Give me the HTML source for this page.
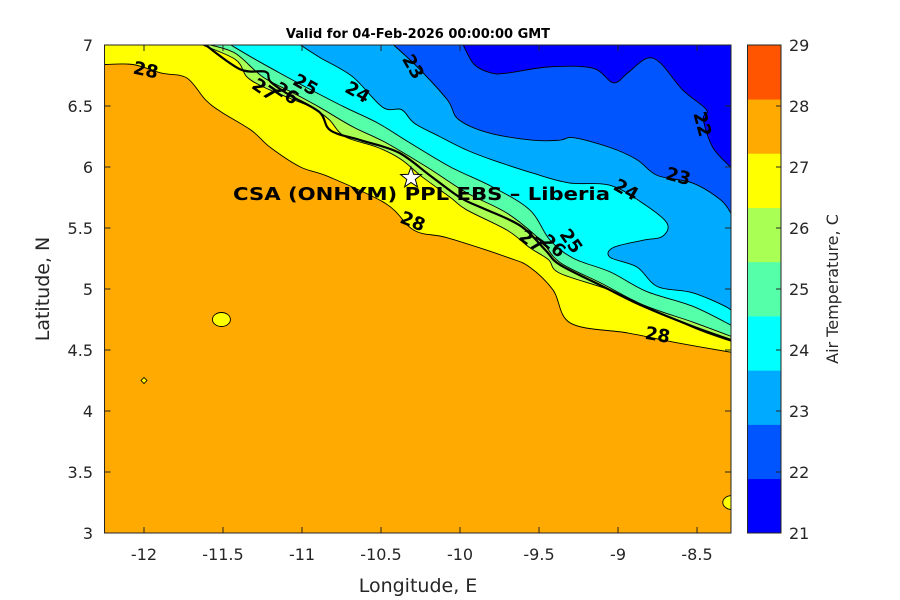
<!DOCTYPE html>
<html><head><meta charset="utf-8"><style>
html,body{margin:0;padding:0;background:#fff;}
svg{display:block;font-family:"DejaVu Sans","Liberation Sans",sans-serif;}
</style></head><body>
<svg id="chart" width="900" height="600" viewBox="0 0 900 600" xmlns="http://www.w3.org/2000/svg">
<defs><clipPath id="plotclip"><rect x="104.5" y="45" width="626.5" height="488"/></clipPath></defs>
<rect x="0" y="0" width="900" height="600" fill="#fff"/>
<text x="418" y="38" text-anchor="middle" font-size="13" font-weight="bold">Valid for 04-Feb-2026 00:00:00 GMT</text>
<g id="plot" clip-path="url(#plotclip)"></g>
<g id="overlay"></g>
<g id="axes"></g>
<g id="cbar"></g>
<text x="418" y="592" text-anchor="middle" font-size="19" fill="#262626">Longitude, E</text>
<text transform="translate(49,289) rotate(-90)" text-anchor="middle" font-size="19" fill="#262626">Latitude, N</text>
<text transform="translate(838,289) rotate(-90)" text-anchor="middle" font-size="16" fill="#262626">Air Temperature, C</text>
</svg>
<script>
const xTicks = [-12, -11.5, -11, -10.5, -10, -9.5, -9, -8.5];
const yTicks = [3, 3.5, 4, 4.5, 5, 5.5, 6, 6.5, 7];
const levels = [21, 22, 23, 24, 25, 26, 27, 28, 29];
const levelColors = ["#0000ff","#0055ff","#00aaff","#00ffff","#55ffaa","#aaff55","#ffff00","#ffaa00"];
const colorbarColors = ["#0000ff","#0055ff","#00aaff","#00ffff","#55ffaa","#aaff55","#ffff00","#ffaa00","#ff5500"];
const contour28 = [[-12.25,6.84],[-12.07,6.84],[-11.89,6.77],[-11.73,6.73],[-11.61,6.55],[-11.51,6.45],[-11.32,6.30],[-11.20,6.16],[-11.01,6.00],[-10.83,5.92],[-10.47,5.70],[-10.29,5.48],[-10.08,5.42],[-9.70,5.26],[-9.56,5.18],[-9.41,4.99],[-9.30,4.72],[-8.94,4.64],[-8.63,4.56],[-8.28,4.48]];
const contour27 = [[-11.63,7.00],[-11.42,6.88],[-11.35,6.74],[-11.25,6.66],[-11.09,6.57],[-10.94,6.49],[-10.83,6.39],[-10.73,6.25],[-10.52,6.16],[-10.37,6.06],[-10.24,5.92],[-10.06,5.75],[-9.96,5.65],[-9.70,5.48],[-9.56,5.34],[-9.44,5.24],[-9.37,5.13],[-9.05,4.99],[-8.78,4.83],[-8.48,4.66],[-8.28,4.57]];
const contour26 = [[-11.58,7.00],[-11.42,6.93],[-11.25,6.74],[-11.06,6.61],[-10.89,6.49],[-10.68,6.33],[-10.47,6.20],[-10.21,6.00],[-9.96,5.79],[-9.70,5.62],[-9.49,5.40],[-9.37,5.22],[-9.11,5.05],[-8.84,4.87],[-8.53,4.73],[-8.28,4.61]];
const contour25 = [[-11.45,7.00],[-11.32,6.90],[-11.14,6.77],[-10.94,6.63],[-10.73,6.49],[-10.52,6.36],[-10.32,6.20],[-10.06,6.00],[-9.80,5.84],[-9.56,5.65],[-9.43,5.40],[-9.28,5.25],[-9.05,5.14],[-8.82,4.98],[-8.53,4.86],[-8.28,4.70]];
const contour24 = [[-11.01,7.00],[-10.89,6.90],[-10.68,6.74],[-10.49,6.49],[-10.37,6.47],[-10.29,6.36],[-10.13,6.25],[-9.96,6.14],[-9.80,6.06],[-9.54,5.95],[-9.31,5.87],[-9.05,5.85],[-8.84,5.70],[-8.69,5.54],[-8.72,5.43],[-8.84,5.40],[-9.03,5.34],[-9.05,5.26],[-8.88,5.18],[-8.75,5.02],[-8.53,4.97],[-8.31,4.85],[-8.28,4.80]];
const contour23 = [[-10.42,7.00],[-10.27,6.82],[-10.08,6.55],[-10.01,6.39],[-9.82,6.28],[-9.54,6.22],[-9.37,6.22],[-9.28,6.24],[-9.05,6.16],[-8.88,6.06],[-8.75,5.93],[-8.53,5.87],[-8.35,5.73],[-8.28,5.61]];
const contour22 = [[-9.98,7.00],[-9.91,6.84],[-9.80,6.77],[-9.70,6.77],[-9.44,6.82],[-9.16,6.81],[-9.03,6.69],[-8.94,6.77],[-8.82,6.89],[-8.73,6.85],[-8.59,6.63],[-8.44,6.47],[-8.46,6.39],[-8.40,6.16],[-8.28,5.99]];
const coastline = [[-11.61,7.00],[-11.39,6.80],[-11.23,6.78],[-11.20,6.70],[-11.08,6.59],[-10.89,6.45],[-10.82,6.30],[-10.63,6.22],[-10.39,6.12],[-10.19,5.93],[-10.00,5.75],[-9.87,5.67],[-9.62,5.52],[-9.46,5.32],[-9.37,5.20],[-9.11,5.03],[-8.86,4.87],[-8.54,4.70],[-8.28,4.58]];
const contourLabels = [["28",-11.99,6.79,12],["27",-11.24,6.63,35],["26",-11.10,6.60,35],["25",-10.98,6.67,30],["24",-10.65,6.61,30],["23",-10.30,6.82,60],["22",-8.47,6.35,75],["23",-8.62,5.92,15],["24",-8.95,5.81,30],["28",-10.30,5.55,22],["27",-9.55,5.39,35],["26",-9.41,5.35,40],["25",-9.30,5.39,55],["28",-8.75,4.62,10]];
const siteLon = -10.31, siteLat = 5.91;
const siteName = "CSA (ONHYM) PPL EBS  \u2013 Liberia";
const islands = [[-11.51,4.75,9,7],[-8.28,3.25,9,7]];

const NS = "http://www.w3.org/2000/svg";
const X0 = 104.5, X1 = 731, Y0 = 45, Y1 = 533;
const lonMin = -12.25, lonMax = -8.285, latMin = 3, latMax = 7;
function xs(lon){ return X0 + (lon - lonMin) / (lonMax - lonMin) * (X1 - X0); }
function ys(lat){ return Y1 - (lat - latMin) / (latMax - latMin) * (Y1 - Y0); }
function mk(tag, attrs, parent){ const e = document.createElementNS(NS, tag); for (const k in attrs) e.setAttribute(k, attrs[k]); parent.appendChild(e); return e; }
function smoothPath(c){
  const p = c.map(q => [xs(q[0]), ys(q[1])]);
  let d = "M" + p[0][0].toFixed(1) + "," + p[0][1].toFixed(1);
  for (let i = 0; i < p.length - 1; i++){
    const p0 = p[Math.max(0,i-1)], p1 = p[i], p2 = p[i+1], p3 = p[Math.min(p.length-1,i+2)];
    const c1 = [p1[0] + (p2[0]-p0[0])/6, p1[1] + (p2[1]-p0[1])/6];
    const c2 = [p2[0] - (p3[0]-p1[0])/6, p2[1] - (p3[1]-p1[1])/6];
    d += " C" + c1[0].toFixed(1) + "," + c1[1].toFixed(1) + " " + c2[0].toFixed(1) + "," + c2[1].toFixed(1) + " " + p2[0].toFixed(1) + "," + p2[1].toFixed(1);
  }
  return d;
}

const plot = document.getElementById("plot");
let bg = mk("rect", {x:X0, y:Y0, width:X1-X0, height:Y1-Y0, fill:levelColors[7]}, plot);



const regions = [[contour28,6,"region-27-28"],[contour27,5,"region-26-27"],[contour26,4,"region-25-26"],[contour25,3,"region-24-25"],[contour24,2,"region-23-24"],[contour23,1,"region-22-23"],[contour22,0,"region-below-22"]];
regions.forEach(r => {
  const c = r[0];
  let d = smoothPath(c) + " L" + (xs(lonMax)+5) + "," + ys(c[c.length-1][1]) + " L" + (xs(lonMax)+5) + "," + (ys(latMax)-5);
  if (c[0][1] < latMax - 0.01) d += " L" + xs(lonMin) + "," + (ys(latMax)-5);
  else d += " L" + xs(c[0][0]) + "," + (ys(latMax)-5);
  d += " Z";
  const p = mk("path", {d:d, fill:levelColors[r[1]], stroke:"none"}, plot);
  
  
});
[contour28,contour27,contour26,contour25,contour24,contour23,contour22].forEach(c => {
  const p = mk("path", {d:smoothPath(c), fill:"none", stroke:"#000", "stroke-width":0.9}, plot);
  
  
});
islands.forEach(s => {
  const e = mk("ellipse", {cx:xs(s[0]), cy:ys(s[1]), rx:s[2], ry:s[3], fill:levelColors[6], stroke:"#000", "stroke-width":0.9}, plot);
  
  
});
const dia = mk("path", {d:"M"+(xs(-12)-3)+","+ys(4.25)+" l3,-3 l3,3 l-3,3 Z", fill:levelColors[6], stroke:"#000", "stroke-width":0.8}, plot);


const coast = mk("path", {d:smoothPath(coastline), fill:"none", stroke:"#000", "stroke-width":2.2, "stroke-linejoin":"round"}, plot);



const ov = document.getElementById("overlay");
contourLabels.forEach(l => {
  const t = mk("text", {x:0, y:0, "text-anchor":"middle", "dominant-baseline":"central", "font-size":18, "font-weight":"bold", transform:"translate("+xs(l[1]).toFixed(1)+","+ys(l[2]).toFixed(1)+") rotate("+l[3]+")"}, ov);
  t.textContent = l[0];
  
  
});
const sx = xs(siteLon), sy = ys(siteLat);
let sp = [];
for (let i = 0; i < 10; i++){ const a = -Math.PI/2 + i*Math.PI/5; const r = i%2 ? 4.5 : 11; sp.push((sx + r*Math.cos(a)).toFixed(1)+","+(sy + r*Math.sin(a)).toFixed(1)); }
const star = mk("polygon", {points:sp.join(" "), fill:"#fff", stroke:"#000", "stroke-width":1}, ov);


const st = mk("text", {x:233, y:200, "font-size":18, "font-weight":"bold", textLength:377, lengthAdjust:"spacingAndGlyphs"}, ov);
st.textContent = siteName;



const ax = document.getElementById("axes");
const box = mk("rect", {x:X0, y:Y0, width:X1-X0, height:Y1-Y0, fill:"none", stroke:"#262626", "stroke-width":1}, ax);


xTicks.forEach(v => {
  const x = xs(v);
  const tk = mk("path", {d:"M"+x+","+Y1+" v-6 M"+x+","+Y0+" v6", stroke:"#262626", "stroke-width":1}, ax);
  
  
  const t = mk("text", {x:x, y:560, "text-anchor":"middle", "font-size":16, fill:"#262626"}, ax);
  t.textContent = String(v);
  
  
});
yTicks.forEach(v => {
  const y = ys(v);
  const tk = mk("path", {d:"M"+X0+","+y+" h6 M"+X1+","+y+" h-6", stroke:"#262626", "stroke-width":1}, ax);
  
  
  const t = mk("text", {x:93, y:y+6, "text-anchor":"end", "font-size":16, fill:"#262626"}, ax);
  t.textContent = String(v);
  
  
});

const cb = document.getElementById("cbar");
const CX = 747.5, CW = 33.5;
function cy(v){ return Y1 - (v - levels[0]) / (levels[levels.length-1] - levels[0]) * (Y1 - Y0); }
const bandH = (Y1 - Y0) / colorbarColors.length;
colorbarColors.forEach((c, i) => {
  const r = mk("rect", {x:CX, y:Y1 - (i+1)*bandH, width:CW, height:bandH + 0.3, fill:c}, cb);
  
  
});
const cbf = mk("rect", {x:CX, y:Y0, width:CW, height:Y1-Y0, fill:"none", stroke:"#262626", "stroke-width":1}, cb);


levels.forEach(v => {
  const y = cy(v);
  const tk = mk("path", {d:"M"+(CX+CW)+","+y+" h-5", stroke:"#262626", "stroke-width":1}, cb);
  
  
  const t = mk("text", {x:789, y:y+6, "font-size":16, fill:"#262626"}, cb);
  t.textContent = String(v);
  
  
});
</script>
</body></html>
